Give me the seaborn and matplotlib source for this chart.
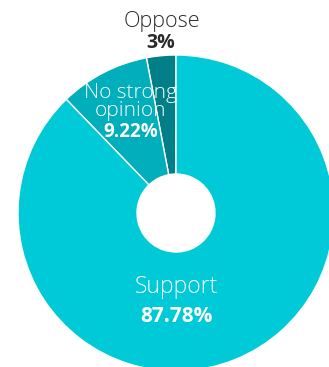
import matplotlib
matplotlib.use("Agg")
import matplotlib.pyplot as plt
import seaborn as sns

labels = ["Oppose", "No strong\nopinion", "Support"]
values = [3.0, 9.22, 87.78]
pct_labels = ["3%", "9.22%", "87.78%"]
colors = ["#007F88", "#00AEBC", "#00CAD7"]

sns.set_style("white")
plt.rcParams['font.family'] = ['Open Sans', 'DejaVu Sans']

W, H = 329, 367
fig = plt.figure(figsize=(W / 100, H / 100), dpi=100)
ax = fig.add_axes([0, 0, 1, 1])

R_PX = 158.0
cx, cy = 176.0, 213.0
hole = 39.0 / R_PX

wedges, _ = ax.pie(values, colors=colors, startangle=90, counterclock=True,
                   radius=1.0,
                   wedgeprops=dict(width=1 - hole, edgecolor="white", linewidth=1.0))
ax.set_xlim(-cx / R_PX, (W - cx) / R_PX)
ax.set_ylim(-(H - cy) / R_PX, cy / R_PX)
ax.set_aspect('auto')
ax.axis('off')

def px(x, y):
    return ((x - cx) / R_PX, (cy - y) / R_PX)

LIGHT = 300

# Oppose (outside, dark text)
ax.text(*px(162, 22), labels[0], ha="center", va="center", fontsize=15.5,
        fontweight=LIGHT, color="#2a2a2a")
ax.text(*px(161, 43), pct_labels[0], ha="center", va="center", fontsize=14,
        fontweight="bold", color="#2a2a2a")

# No strong opinion
ax.text(*px(131, 102), labels[1], ha="center", va="center", fontsize=15,
        fontweight=LIGHT, color="white", linespacing=0.9)
ax.text(*px(131, 132), pct_labels[1], ha="center", va="center", fontsize=13.5,
        fontweight="bold", color="white")

# Support
ax.text(*px(176, 287), labels[2], ha="center", va="center", fontsize=16.5,
        fontweight=LIGHT, color="white")
ax.text(*px(176, 317), pct_labels[2], ha="center", va="center", fontsize=15,
        fontweight="bold", color="white")

fig.savefig("out.png", dpi=100)
